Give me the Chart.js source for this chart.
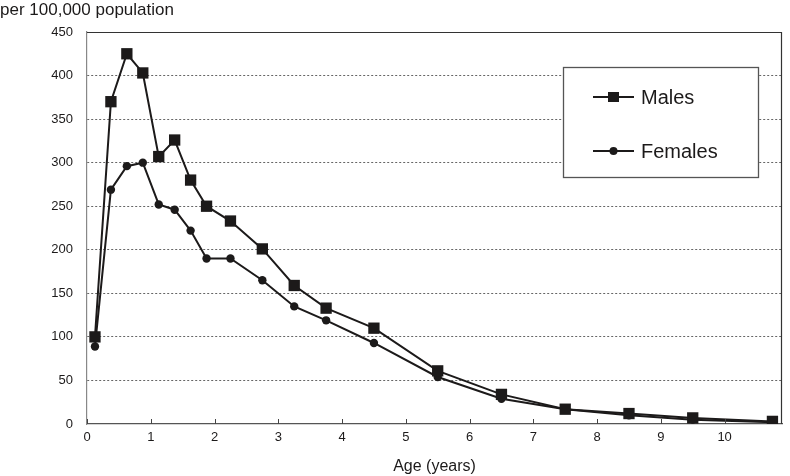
<!DOCTYPE html>
<html>
<head>
<meta charset="utf-8">
<script src="https://cdn.jsdelivr.net/npm/chart.js@4.4.1/dist/chart.umd.min.js"></script>
<style>
    html, body { margin: 0; padding: 0; background: #fff; }
    #wrap { position: relative; width: 790px; height: 476px; }
</style>
</head>
<body>
<div id="wrap"><canvas id="chart" width="790" height="476"></canvas></div>
<script>
// Data
const ages = [0.125, 0.375, 0.625, 0.875, 1.125, 1.375, 1.625, 1.875, 2.25, 2.75,
    3.25, 3.75, 4.5, 5.5, 6.5, 7.5, 8.5, 9.5, 10.75];
const males = [100, 370, 425, 403, 307, 326, 280, 250, 233, 201,
    159, 133, 110, 61, 34, 17, 12, 7, 3];
const females = [89, 269, 296, 300, 252, 246, 222, 190, 190, 165,
    135, 119, 93, 54, 29, 17, 10, 5, 2];
const xTicks = [0, 1, 2, 3, 4, 5, 6, 7, 8, 9, 10];
const yTicks = [0, 50, 100, 150, 200, 250, 300, 350, 400, 450];

const FONT = '"Liberation Sans", Arial, sans-serif';
const INK = '#1c1a1a';

function toPoints(values) {
    return ages.map((a, i) => ({ x: a, y: values[i] }));
}

// Frame, inner x ticks, boxed legend and y title
const framePlugin = {
    id: 'frame',
    afterDraw(chart) {
        const ctx = chart.ctx;
        const a = chart.chartArea;
        const xs = chart.scales.x;
        ctx.save();

        // top and right border
        ctx.strokeStyle = '#333';
        ctx.lineWidth = 1.2;
        ctx.beginPath();
        ctx.moveTo(a.left, a.top + 0.5);
        ctx.lineTo(a.right - 0.5, a.top + 0.5);
        ctx.lineTo(a.right - 0.5, a.bottom);
        ctx.stroke();

        // small tick marks pointing into the plot
        ctx.strokeStyle = '#444';
        ctx.lineWidth = 1;
        xTicks.forEach(v => {
            const px = Math.round(xs.getPixelForValue(v)) + 0.5;
            ctx.beginPath();
            ctx.moveTo(px, a.bottom);
            ctx.lineTo(px, a.bottom - 5);
            ctx.stroke();
        });

        // y axis title
        ctx.fillStyle = INK;
        ctx.font = '17px ' + FONT;
        ctx.textAlign = 'left';
        ctx.textBaseline = 'middle';
        ctx.fillText('per 100,000 population', 0, 10);

        // legend box
        const bx = 563, by = 67, bw = 195, bh = 110;
        ctx.fillStyle = '#fff';
        ctx.fillRect(bx, by, bw, bh);
        ctx.strokeStyle = '#555';
        ctx.lineWidth = 1.3;
        ctx.strokeRect(bx + 0.5, by + 0.5, bw, bh);

        chart.data.datasets.forEach((ds, i) => {
            const ly = by + 30 + i * 54;
            ctx.strokeStyle = ds.borderColor;
            ctx.lineWidth = 2;
            ctx.beginPath();
            ctx.moveTo(bx + 30, ly);
            ctx.lineTo(bx + 71, ly);
            ctx.stroke();
            ctx.fillStyle = ds.pointBackgroundColor;
            if (ds.pointStyle === 'rect') {
                ctx.fillRect(bx + 45, ly - 5, 11, 10);
            } else {
                ctx.beginPath();
                ctx.arc(bx + 50.5, ly, 4, 0, Math.PI * 2);
                ctx.fill();
            }
            ctx.fillStyle = INK;
            ctx.font = '20px ' + FONT;
            ctx.textAlign = 'left';
            ctx.textBaseline = 'middle';
            ctx.fillText(ds.label, bx + 78, ly + 1);
        });
        ctx.restore();
    }
};

const ctx = document.getElementById('chart').getContext('2d');
new Chart(ctx, {
    type: 'line',
    data: {
        datasets: [
            {
                label: 'Males',
                data: toPoints(males),
                borderColor: INK,
                borderWidth: 2,
                pointStyle: 'rect',
                pointRadius: 8,
                pointBackgroundColor: INK,
                pointBorderColor: INK,
                pointBorderWidth: 0,
                tension: 0
            },
            {
                label: 'Females',
                data: toPoints(females),
                borderColor: INK,
                borderWidth: 2,
                pointStyle: 'circle',
                pointRadius: 4.2,
                pointBackgroundColor: INK,
                pointBorderColor: INK,
                pointBorderWidth: 0,
                tension: 0
            }
        ]
    },
    options: {
        responsive: false,
        animation: false,
        layout: { padding: { top: 32, right: 2, left: 0, bottom: 0 } },
        plugins: {
            legend: { display: false },
            tooltip: { enabled: false }
        },
        scales: {
            x: {
                type: 'linear',
                min: 0,
                max: 10.9,
                afterBuildTicks: scale => { scale.ticks = xTicks.map(v => ({ value: v })); },
                afterFit: scale => { scale.height = 52; },
                grid: { display: false, drawTicks: false },
                border: { display: true, color: '#555', width: 1.2 },
                ticks: {
                    color: INK,
                    font: { family: FONT, size: 13 },
                    padding: 6,
                    maxRotation: 0,
                    autoSkip: false
                },
                title: {
                    display: true,
                    text: 'Age (years)',
                    color: INK,
                    font: { family: FONT, size: 16 },
                    padding: { top: 5, bottom: 0 }
                }
            },
            y: {
                min: 0,
                max: 450,
                afterBuildTicks: scale => { scale.ticks = yTicks.map(v => ({ value: v })); },
                afterFit: scale => { scale.width = 87; },
                grid: {
                    color: ctx => (ctx.tick && (ctx.tick.value === 0 || ctx.tick.value === 450)) ? 'rgba(0,0,0,0)' : '#666',
                    lineWidth: 1,
                    drawTicks: false
                },
                border: { display: true, color: '#888', width: 1.2, dash: [2, 2] },
                ticks: {
                    color: INK,
                    font: { family: FONT, size: 13 },
                    padding: 14
                }
            }
        }
    },
    plugins: [framePlugin]
});
</script>
</body>
</html>
